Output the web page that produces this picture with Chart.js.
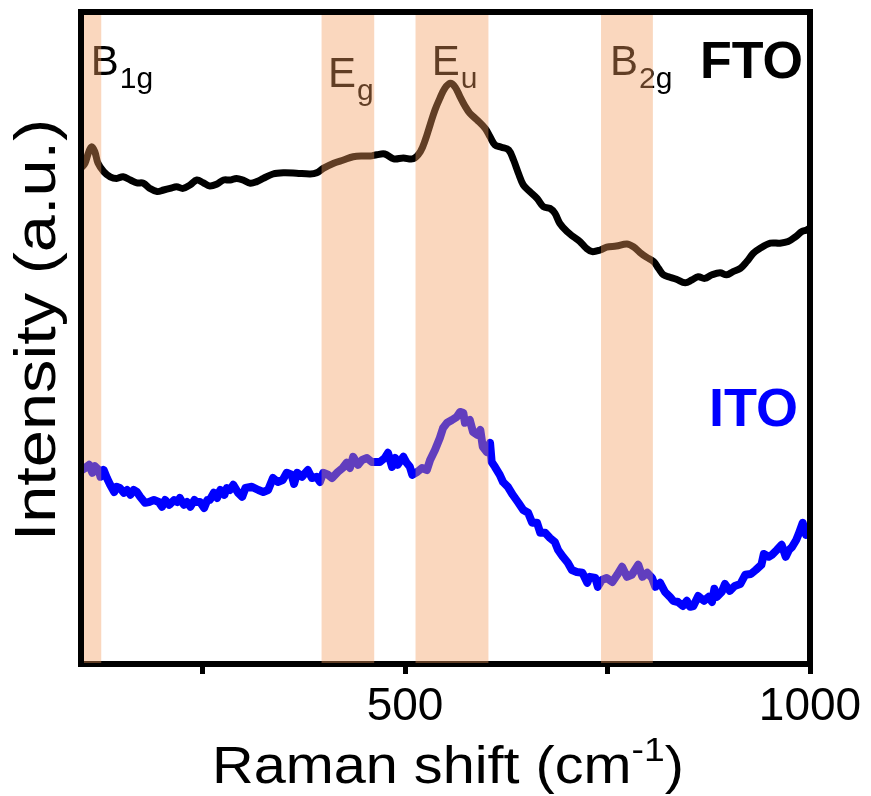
<!DOCTYPE html>
<html>
<head>
<meta charset="utf-8">
<script src="https://cdn.jsdelivr.net/npm/chart.js@4/dist/chart.umd.min.js"></script>
<style>
  html, body { margin: 0; padding: 0; background: #fff; }
  canvas { display: block; }
</style>
</head>
<body>
<canvas id="raman" width="871" height="796"></canvas>
<script>
// Raman spectra of the two transparent conducting oxides (intensity in arbitrary units)
const ftoShift = [
  100, 105, 109, 113, 117, 121, 128, 136, 144, 152,
  161, 169, 177, 185, 194, 202, 210, 218, 226, 235,
  243, 251, 259, 268, 276, 284, 292, 300, 309, 317,
  325, 337, 350, 366, 383, 391, 399, 412, 424, 436,
  449, 457, 465, 475, 486, 498, 510, 519, 525, 531,
  537, 543, 549, 556, 562, 568, 574, 580, 589, 599,
  605, 611, 619, 628, 634, 640, 646, 654, 663, 671,
  679, 685, 691, 700, 708, 716, 724, 731, 741, 749,
  761, 774, 782, 790, 798, 807, 813, 819, 827, 835,
  846, 854, 862, 870, 879, 889, 897, 905, 914, 922,
  930, 938, 951, 963, 973, 982, 990, 996, 1000
];
const ftoIntensity = [
  1240, 1252, 1277, 1293, 1281, 1252, 1231, 1218, 1214, 1218,
  1210, 1203, 1202, 1189, 1181, 1185, 1189, 1193, 1189, 1198,
  1210, 1203, 1195, 1200, 1210, 1210, 1214, 1210, 1202, 1206,
  1214, 1225, 1228, 1227, 1225, 1228, 1239, 1252, 1260, 1268,
  1270, 1270, 1273, 1275, 1263, 1265, 1263, 1281, 1310, 1348,
  1385, 1414, 1439, 1452, 1442, 1418, 1395, 1377, 1360, 1339,
  1318, 1298, 1292, 1285, 1260, 1227, 1198, 1181, 1164, 1143,
  1139, 1127, 1102, 1081, 1068, 1056, 1039, 1031, 1035, 1042,
  1045, 1050, 1043, 1029, 1017, 1006, 989, 973, 967, 962,
  953, 960, 968, 964, 973, 978, 973, 981, 989, 1006,
  1027, 1039, 1052, 1052, 1056, 1068, 1081, 1085, 1090
];
const itoShift = [
  101, 105, 110, 114, 117, 122, 124, 128, 132, 136,
  141, 144, 148, 153, 157, 161, 165, 169, 173, 179,
  184, 190, 196, 200, 204, 209, 215, 219, 222, 227,
  231, 235, 240, 243, 247, 252, 256, 259, 264, 268,
  272, 277, 280, 284, 288, 294, 299, 303, 311, 319,
  325, 331, 337, 343, 349, 354, 360, 363, 367, 373,
  377, 380, 385, 391, 395, 399, 405, 410, 417, 423,
  428, 432, 436, 442, 447, 453, 459, 465, 469, 475,
  479, 484, 488, 491, 498, 502, 506, 509, 515, 521,
  527, 531, 537, 543, 547, 552, 558, 564, 568, 572,
  574, 580, 584, 589, 593, 596, 601, 605, 607, 611,
  617, 621, 627, 633, 640, 646, 652, 657, 663, 667,
  673, 679, 685, 689, 695, 701, 706, 712, 719, 725,
  728, 735, 738, 743, 749, 756, 762, 768, 774, 780,
  788, 793, 799, 805, 809, 815, 821, 827, 831, 837,
  843, 848, 852, 856, 862, 869, 875, 879, 882, 885,
  891, 895, 901, 907, 914, 920, 927, 933, 940, 943,
  949, 953, 959, 965, 970, 974, 978, 983, 986, 991,
  995, 999
];
const itoIntensity = [
  485, 490, 498, 478, 495, 485, 468, 485, 465, 448,
  430, 443, 440, 428, 435, 423, 435, 430, 418, 403,
  405, 410, 405, 393, 410, 398, 410, 405, 415, 398,
  405, 393, 410, 405, 405, 390, 410, 410, 428, 415,
  435, 423, 440, 435, 448, 428, 418, 440, 443, 435,
  430, 435, 465, 455, 460, 478, 473, 450, 478, 468,
  478, 485, 465, 468, 455, 478, 473, 465, 480, 490,
  503, 490, 518, 498, 510, 515, 505, 505, 505, 515,
  528, 493, 515, 498, 518, 503, 493, 473, 480, 490,
  485, 510, 535, 565, 590, 603, 610, 618, 630, 628,
  603, 610, 580, 573, 585, 543, 530, 553, 505, 493,
  473, 455, 443, 423, 403, 385, 378, 353, 353, 328,
  328, 315, 305, 285, 268, 253, 235, 230, 228, 203,
  218, 215, 193, 210, 215, 205, 223, 243, 218, 223,
  248, 218, 228, 215, 193, 203, 180, 168, 158, 155,
  145, 158, 143, 145, 170, 158, 168, 155, 188, 168,
  180, 200, 183, 195, 200, 223, 225, 235, 248, 275,
  268, 273, 285, 298, 268, 285, 293, 310, 325, 353,
  323, 330
];
const seriesNames = ['FTO', 'ITO'];

// SnO2 rutile phonon modes, shaded wavenumber windows
const bandStart = [100, 397, 513, 742];
const bandEnd = [125, 462, 603, 806];
const bandSymbol = ['B', 'E', 'E', 'B'];
const bandSubscript = ['1g', 'g', 'u', '2g'];

const xTickValues = [250, 500, 750, 1000];
const xTickLabels = ['', '500', '', '1000'];

const FONT = '"Liberation Sans", Arial, Helvetica, sans-serif';

// label placement (wavenumber anchor, baseline in px)
const modeLabelAnchor = [112, 405, 533, 753];
const modeLabelBaseline = [75, 87, 75, 75];

function drawRunText(ctx, parts, x, y, sx) {
  // parts: [{text, size, dy, weight}] drawn left to right with a horizontal stretch sx
  let total = 0;
  parts.forEach(p => {
    ctx.font = `${p.weight || 'normal'} ${p.size}px ${FONT}`;
    p.w = ctx.measureText(p.text).width;
    total += p.w;
  });
  ctx.save();
  ctx.translate(x - total * sx / 2, y);
  ctx.scale(sx, 1);
  let cx = 0;
  parts.forEach(p => {
    ctx.font = `${p.weight || 'normal'} ${p.size}px ${FONT}`;
    ctx.fillText(p.text, cx, p.dy || 0);
    cx += p.w;
  });
  ctx.restore();
}

const ramanDecor = {
  id: 'ramanDecor',
  beforeDatasetsDraw(chart) {
    const { ctx, scales: { x } } = chart;
    ctx.save();
    ctx.fillStyle = '#000';
    ctx.textAlign = 'left';
    ctx.textBaseline = 'alphabetic';
    bandSymbol.forEach((sym, i) => {
      const px = x.getPixelForValue(modeLabelAnchor[i]);
      const by = modeLabelBaseline[i];
      ctx.font = `42px ${FONT}`;
      ctx.fillText(sym, px, by);
      const w = ctx.measureText(sym).width;
      ctx.font = `30px ${FONT}`;
      ctx.fillText(bandSubscript[i], px + w + 1, by + 13);
    });
    ctx.restore();
  },
  afterDatasetsDraw(chart) {
    const { ctx, chartArea: a, scales: { x } } = chart;
    ctx.save();
    // plot frame
    ctx.strokeStyle = '#000';
    ctx.lineWidth = 6;
    ctx.strokeRect(a.left, a.top, a.right - a.left, a.bottom - a.top);
    // translucent mode windows laid over the spectra
    ctx.fillStyle = 'rgba(242, 155, 92, 0.4)';
    bandStart.forEach((s, i) => {
      const x0 = Math.max(x.getPixelForValue(s), a.left + 3);
      const x1 = Math.min(x.getPixelForValue(bandEnd[i]), a.right - 3);
      ctx.fillRect(x0, a.top + 3, x1 - x0, a.bottom - a.top - 4);
    });
    // series names
    ctx.textAlign = 'left';
    ctx.textBaseline = 'alphabetic';
    ctx.font = `bold 52px ${FONT}`;
    ctx.fillStyle = '#000';
    ctx.fillText(seriesNames[0], 700, 78);
    ctx.font = `bold 54px ${FONT}`;
    ctx.fillStyle = '#0000ff';
    ctx.fillText(seriesNames[1], 709, 426);
    ctx.restore();
  },
  afterDraw(chart) {
    const { ctx } = chart;
    ctx.save();
    ctx.fillStyle = '#000';
    ctx.textBaseline = 'alphabetic';
    ctx.textAlign = 'left';
    // x-axis title with superscript unit
    drawRunText(ctx, [
      { text: 'Raman shift (cm', size: 51 },
      { text: '-1', size: 33, dy: -22 },
      { text: ')', size: 51 }
    ], 448, 783, 1.13);
    // y-axis title
    ctx.translate(55, 330);
    ctx.rotate(-Math.PI / 2);
    drawRunText(ctx, [{ text: 'Intensity (a.u.)', size: 58 }], 0, 0, 1.15);
    ctx.restore();
  }
};

new Chart(document.getElementById('raman'), {
  type: 'line',
  data: {
    datasets: [
      {
        label: seriesNames[0],
        data: ftoShift.map((v, i) => ({ x: v, y: ftoIntensity[i] })),
        borderColor: '#000000',
        borderWidth: 7,
        tension: 0.35,
        pointRadius: 0,
        borderJoinStyle: 'round',
        borderCapStyle: 'round'
      },
      {
        label: seriesNames[1],
        data: itoShift.map((v, i) => ({ x: v, y: itoIntensity[i] })),
        borderColor: '#0000ff',
        borderWidth: 8,
        tension: 0,
        pointRadius: 0,
        borderJoinStyle: 'round',
        borderCapStyle: 'round'
      }
    ]
  },
  options: {
    responsive: false,
    animation: false,
    devicePixelRatio: 1,
    layout: { padding: { left: 81, right: 61, top: 12, bottom: 0 } },
    plugins: { legend: { display: false }, tooltip: { enabled: false } },
    scales: {
      x: {
        type: 'linear',
        min: 100,
        max: 1000,
        afterBuildTicks: (scale) => { scale.ticks = xTickValues.map(v => ({ value: v })); },
        afterFit: (scale) => { scale.height = 132; },
        border: { display: false },
        grid: {
          display: true,
          drawOnChartArea: false,
          drawTicks: true,
          tickLength: 10,
          tickWidth: 5,
          tickColor: '#000'
        },
        ticks: {
          autoSkip: false,
          maxRotation: 0,
          color: '#000',
          padding: 6,
          font: { family: FONT, size: 46 },
          callback: (v) => {
            const k = xTickValues.indexOf(v);
            return k >= 0 ? xTickLabels[k] : '';
          }
        }
      },
      y: { display: false, min: 0, max: 1630 }
    }
  },
  plugins: [ramanDecor]
});
</script>
</body>
</html>
